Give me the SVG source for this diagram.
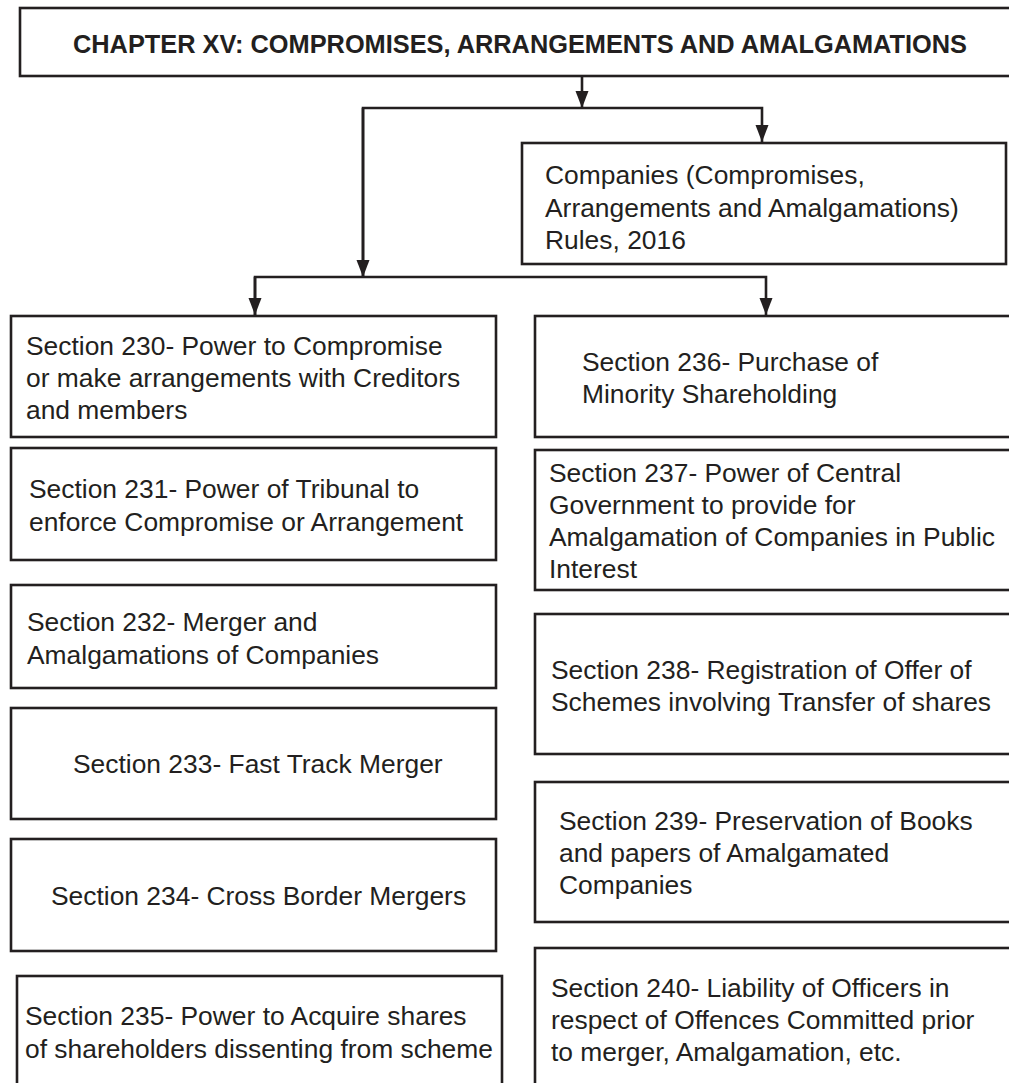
<svg xmlns="http://www.w3.org/2000/svg" width="1009" height="1083" viewBox="0 0 1009 1083">
<defs>
<style>
.box{fill:#fff;stroke:#231f20;stroke-width:2.6}
.t{font-family:"Liberation Sans",Arial,sans-serif;font-size:26.4px;fill:#231f20}
.title{font-family:"Liberation Sans",Arial,sans-serif;font-size:25px;font-weight:bold;fill:#231f20}
.c{fill:none;stroke:#231f20;stroke-width:2.6}
</style>
<marker id="ah" markerUnits="userSpaceOnUse" markerWidth="18" markerHeight="14" refX="17" refY="6.5" orient="auto">
<path d="M0,0 L17,6.5 L0,13 z" fill="#231f20"/>
</marker>
</defs>
<rect width="1009" height="1083" fill="#fff"/>
<g id="connectors">
<line class="c" x1="582" y1="76" x2="582" y2="108" marker-end="url(#ah)"/>
<polyline class="c" points="363,277 363,108 762,108 762,142" marker-end="url(#ah)"/>
<line class="c" x1="363" y1="108" x2="363" y2="277" marker-end="url(#ah)"/>
<polyline class="c" points="255,315 255,277 766,277 766,315" marker-end="url(#ah)"/>
<line class="c" x1="255" y1="277" x2="255" y2="315" marker-end="url(#ah)"/>
</g>
<g id="title">
<rect class="box" x="20" y="8" width="1000" height="68"/>
<text class="title" x="73" y="53" textLength="894" lengthAdjust="spacingAndGlyphs">CHAPTER XV: COMPROMISES, ARRANGEMENTS AND AMALGAMATIONS</text>
</g>
<g id="rules">
<rect class="box" x="522" y="143" width="484" height="121"/>
<text class="t" x="545" y="184">Companies (Compromises,</text>
<text class="t" x="545" y="217">Arrangements and Amalgamations)</text>
<text class="t" x="545" y="249">Rules, 2016</text>
</g>
<g id="s230">
<rect class="box" x="11" y="316" width="485" height="121"/>
<text class="t" x="26" y="355">Section 230- Power to Compromise</text>
<text class="t" x="26" y="387">or make arrangements with Creditors</text>
<text class="t" x="26" y="419">and members</text>
</g>
<g id="s231">
<rect class="box" x="11" y="448" width="485" height="112"/>
<text class="t" x="29" y="498">Section 231- Power of Tribunal to</text>
<text class="t" x="29" y="531">enforce Compromise or Arrangement</text>
</g>
<g id="s232">
<rect class="box" x="11" y="585" width="485" height="103"/>
<text class="t" x="27" y="631">Section 232- Merger and</text>
<text class="t" x="27" y="664">Amalgamations of Companies</text>
</g>
<g id="s233">
<rect class="box" x="11" y="708" width="485" height="111"/>
<text class="t" x="73" y="773">Section 233- Fast Track Merger</text>
</g>
<g id="s234">
<rect class="box" x="11" y="839" width="485" height="112"/>
<text class="t" x="51" y="905">Section 234- Cross Border Mergers</text>
</g>
<g id="s235">
<rect class="box" x="17" y="976" width="485" height="120"/>
<text class="t" x="25" y="1025">Section 235- Power to Acquire shares</text>
<text class="t" x="25" y="1058">of shareholders dissenting from scheme</text>
</g>
<g id="s236">
<rect class="box" x="535" y="316" width="490" height="121"/>
<text class="t" x="582" y="371">Section 236- Purchase of</text>
<text class="t" x="582" y="403">Minority Shareholding</text>
</g>
<g id="s237">
<rect class="box" x="535" y="450" width="490" height="140"/>
<text class="t" x="549" y="482">Section 237- Power of Central</text>
<text class="t" x="549" y="514">Government to provide for</text>
<text class="t" x="549" y="546">Amalgamation of Companies in Public</text>
<text class="t" x="549" y="578">Interest</text>
</g>
<g id="s238">
<rect class="box" x="535" y="614" width="490" height="140"/>
<text class="t" x="551" y="679">Section 238- Registration of Offer of</text>
<text class="t" x="551" y="711">Schemes involving Transfer of shares</text>
</g>
<g id="s239">
<rect class="box" x="535" y="782" width="490" height="140"/>
<text class="t" x="559" y="830">Section 239- Preservation of Books</text>
<text class="t" x="559" y="862">and papers of Amalgamated</text>
<text class="t" x="559" y="894">Companies</text>
</g>
<g id="s240">
<rect class="box" x="535" y="948" width="490" height="150"/>
<text class="t" x="551" y="997">Section 240- Liability of Officers in</text>
<text class="t" x="551" y="1029">respect of Offences Committed prior</text>
<text class="t" x="551" y="1061">to merger, Amalgamation, etc.</text>
</g>
</svg>
